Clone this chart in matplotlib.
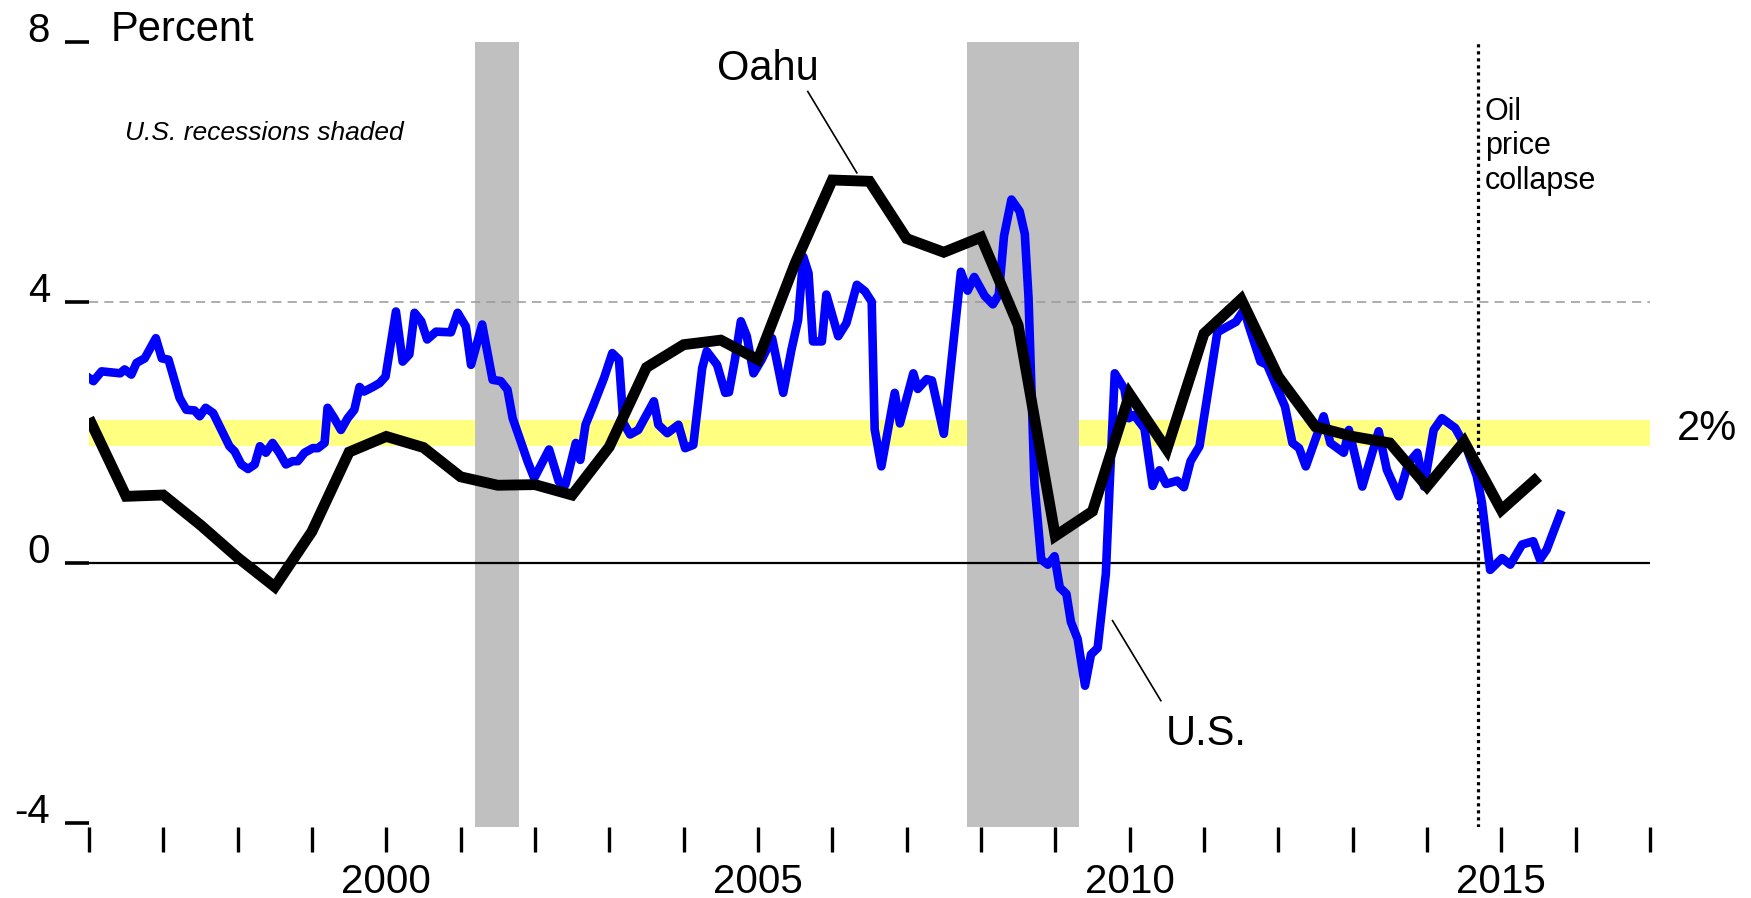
import matplotlib
matplotlib.use("Agg")
from matplotlib import pyplot as plt

plt.rcParams['font.family'] = ['Liberation Sans', 'DejaVu Sans']

# Oahu CPI inflation, semiannual (percent)
oahu_dates = [1996.0, 1996.5, 1997.0, 1997.5, 1998.0, 1998.5, 1999.0, 1999.5,
              2000.0, 2000.5, 2001.0, 2001.5, 2002.0, 2002.5, 2003.0, 2003.5,
              2004.0, 2004.5, 2005.0, 2005.5, 2006.0, 2006.5, 2007.0, 2007.5,
              2008.0, 2008.5, 2009.0, 2009.5, 2010.0, 2010.5, 2011.0, 2011.5,
              2012.0, 2012.5, 2013.0, 2013.5, 2014.0, 2014.5, 2015.0, 2015.5]
oahu_vals = [2.22, 1.02, 1.04, 0.58, 0.08, -0.37, 0.48, 1.70,
             1.94, 1.77, 1.32, 1.19, 1.20, 1.04, 1.78, 3.00,
             3.35, 3.42, 3.12, 4.60, 5.88, 5.86, 4.98, 4.77,
             5.00, 3.65, 0.41, 0.79, 2.59, 1.74, 3.52, 4.05,
             2.86, 2.09, 1.94, 1.84, 1.17, 1.86, 0.81, 1.32]

# U.S. CPI inflation (percent)
us_dates = [1996.00, 1996.06, 1996.17, 1996.42, 1996.48, 1996.57, 1996.64, 1996.75,
            1996.90, 1996.98, 1997.07, 1997.22, 1997.31, 1997.42, 1997.49, 1997.57,
            1997.67, 1997.76, 1997.89, 1997.96, 1998.05, 1998.14, 1998.23, 1998.30,
            1998.38, 1998.47, 1998.56, 1998.65, 1998.74, 1998.81, 1998.90, 1999.01,
            1999.08, 1999.17, 1999.21, 1999.30, 1999.39, 1999.48, 1999.57, 1999.64,
            1999.70, 1999.82, 1999.91, 1999.99, 2000.13, 2000.22, 2000.31, 2000.38,
            2000.47, 2000.55, 2000.67, 2000.87, 2000.96, 2001.07, 2001.14, 2001.29,
            2001.43, 2001.54, 2001.63, 2001.70, 2001.81, 2001.90, 2001.99, 2002.19,
            2002.32, 2002.41, 2002.55, 2002.61, 2002.68, 2002.79, 2002.93, 2003.04,
            2003.13, 2003.19, 2003.28, 2003.39, 2003.60, 2003.66, 2003.78, 2003.93,
            2004.02, 2004.13, 2004.25, 2004.31, 2004.45, 2004.56, 2004.61, 2004.69,
            2004.77, 2004.85, 2004.94, 2005.05, 2005.19, 2005.25, 2005.34, 2005.45,
            2005.54, 2005.61, 2005.68, 2005.74, 2005.86, 2005.92, 2005.99, 2006.08,
            2006.19, 2006.33, 2006.44, 2006.53, 2006.57, 2006.66, 2006.84, 2006.91,
            2007.09, 2007.15, 2007.27, 2007.34, 2007.50, 2007.73, 2007.82, 2007.91,
            2008.05, 2008.16, 2008.24, 2008.31, 2008.41, 2008.52, 2008.59, 2008.64,
            2008.72, 2008.81, 2008.90, 2008.99, 2009.06, 2009.15, 2009.21, 2009.30,
            2009.40, 2009.48, 2009.57, 2009.68, 2009.73, 2009.80, 2009.93, 2009.99,
            2010.06, 2010.20, 2010.31, 2010.40, 2010.49, 2010.64, 2010.73, 2010.82,
            2010.94, 2011.18, 2011.27, 2011.43, 2011.54, 2011.60, 2011.76, 2011.85,
            2012.09, 2012.19, 2012.28, 2012.37, 2012.61, 2012.70, 2012.88, 2012.95,
            2013.13, 2013.35, 2013.46, 2013.62, 2013.75, 2013.87, 2013.96, 2014.09,
            2014.20, 2014.38, 2014.54, 2014.67, 2014.74, 2014.85, 2015.01, 2015.12,
            2015.28, 2015.43, 2015.52, 2015.61, 2015.79]
us_vals = [2.84, 2.79, 2.94, 2.91, 2.97, 2.89, 3.07, 3.14,
           3.45, 3.14, 3.12, 2.53, 2.35, 2.34, 2.25, 2.38,
           2.30, 2.09, 1.79, 1.71, 1.51, 1.44, 1.51, 1.79,
           1.69, 1.84, 1.69, 1.51, 1.56, 1.56, 1.69, 1.76,
           1.76, 1.84, 2.38, 2.22, 2.04, 2.22, 2.35, 2.70,
           2.63, 2.70, 2.76, 2.86, 3.86, 3.09, 3.20, 3.84,
           3.71, 3.43, 3.55, 3.54, 3.84, 3.63, 3.04, 3.66,
           2.81, 2.79, 2.66, 2.22, 1.86, 1.56, 1.30, 1.74,
           1.25, 1.20, 1.84, 1.58, 2.12, 2.43, 2.84, 3.22,
           3.12, 2.15, 1.97, 2.04, 2.48, 2.12, 1.99, 2.12,
           1.76, 1.81, 2.99, 3.25, 3.04, 2.61, 2.62, 3.12,
           3.71, 3.48, 2.91, 3.12, 3.45, 3.12, 2.61, 3.27,
           3.73, 4.70, 4.45, 3.40, 3.40, 4.12, 3.84, 3.48,
           3.68, 4.27, 4.17, 4.01, 2.05, 1.48, 2.61, 2.14,
           2.91, 2.67, 2.82, 2.80, 1.98, 4.47, 4.18, 4.39,
           4.10, 3.97, 4.12, 5.02, 5.58, 5.40, 5.05, 4.07,
           1.21, 0.05, -0.03, 0.10, -0.38, -0.48, -0.91, -1.17,
           -1.89, -1.41, -1.31, -0.17, 1.16, 2.91, 2.67, 2.22,
           2.27, 2.06, 1.18, 1.42, 1.21, 1.26, 1.16, 1.56,
           1.79, 3.54, 3.60, 3.70, 3.89, 3.65, 3.09, 3.04,
           2.40, 1.84, 1.76, 1.48, 2.25, 1.84, 1.69, 2.04,
           1.17, 2.02, 1.43, 1.02, 1.53, 1.69, 1.17, 2.04,
           2.22, 2.07, 1.74, 1.33, 0.92, -0.11, 0.07, -0.03,
           0.28, 0.33, 0.05, 0.20, 0.74]

recessions = [(2001.20, 2001.79), (2007.81, 2009.32)]
oil_collapse = 2014.68
target_band = (1.8, 2.2)

year_ticks = list(range(1996, 2018))
year_labels = [str(y) if y % 5 == 0 else "" for y in year_ticks]
pct_ticks = [-4, 0, 4, 8]
pct_labels = ["-4", "0", "4", "8"]

fig = plt.figure(figsize=(17.51, 8.98), dpi=100)
ax = fig.add_axes([0.0508, 0.0791, 0.9423 - 0.0508, 0.9532 - 0.0791])

ax.axhspan(target_band[0], target_band[1], color="#ffff80", lw=0, zorder=1)
for start, end in recessions:
    ax.axvspan(start, end, color="#c0c0c0", lw=0, zorder=2)
ax.axhline(4, color="#999999", lw=1.1, dashes=(6, 4), zorder=3)
ax.axhline(0, color="black", lw=1.6, zorder=3)
ax.axvline(oil_collapse, color="black", lw=2.3, dashes=(1, 1.2), zorder=3)

ax.plot(us_dates, us_vals, color="#0000ff", lw=6.2, zorder=4)
ax.plot(oahu_dates, oahu_vals, color="black", lw=7.8, solid_joinstyle="miter",
        solid_capstyle="butt", zorder=5)

# labels and leader lines
ax.text(2004.45, 7.41, "Oahu", fontsize=30, ha="left", va="baseline")
ax.plot([2005.67, 2006.33], [7.24, 5.99], color="black", lw=1.2, zorder=5)
ax.text(2010.49, -2.80, "U.S.", fontsize=30, ha="left", va="baseline")
ax.plot([2009.77, 2010.42], [-0.89, -2.12], color="black", lw=1.2, zorder=5)
ax.text(1996.49, 6.5, "U.S. recessions shaded", fontsize=19, style="italic",
        ha="left", va="baseline")
ax.text(1996.29, 8.02, "Percent", fontsize=30, ha="left", va="baseline")
ax.text(2014.78, 7.16, "Oil\nprice\ncollapse", fontsize=22, ha="left", va="top",
        linespacing=1.2)
ax.text(2017.36, 1.89, "2%", fontsize=30, ha="left", va="baseline")

ax.set_xlim(1996, 2017)
ax.set_ylim(-4.06, 8)
ax.set_xticks(year_ticks)
ax.set_xticklabels(year_labels, fontsize=29)
ax.set_yticks(pct_ticks)
ax.set_yticklabels(pct_labels, fontsize=29)
for lab in ax.get_yticklabels():
    lab.set_verticalalignment("baseline")
ax.tick_params(axis="x", length=18, width=2.4, pad=8, direction="out")
ax.tick_params(axis="y", length=17, width=2.6, pad=11, direction="out")
for s in ax.spines.values():
    s.set_visible(False)

plt.savefig("out.png", dpi=100)
